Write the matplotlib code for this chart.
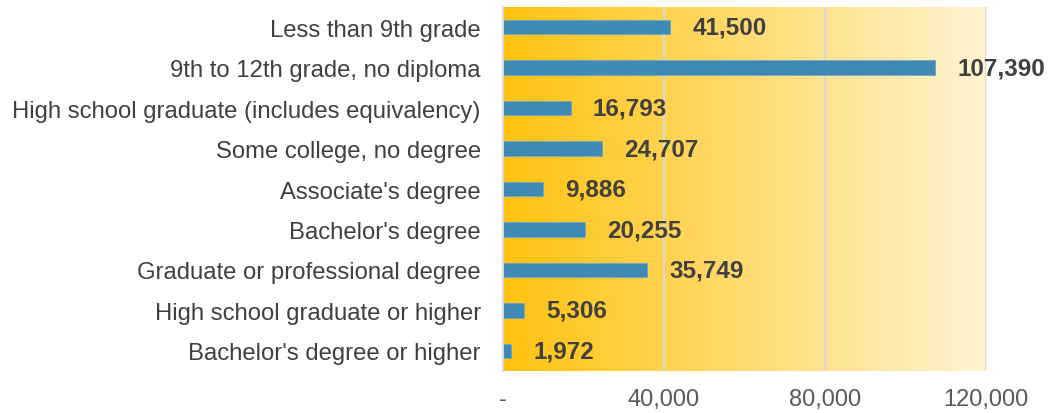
import numpy as np
import matplotlib.pyplot as plt
from matplotlib.colors import LinearSegmentedColormap

categories = [
    "Less than 9th grade",
    "9th to 12th grade, no diploma",
    "High school graduate (includes equivalency)",
    "Some college, no degree",
    "Associate's degree",
    "Bachelor's degree",
    "Graduate or professional degree",
    "High school graduate or higher",
    "Bachelor's degree or higher",
]
values = [41500, 107390, 16793, 24707, 9886, 20255, 35749, 5306, 1972]
xticks = [0, 40000, 80000, 120000]
xtick_labels = ["-", "40,000", "80,000", "120,000"]

plt.rcParams['font.family'] = ['Liberation Sans', 'DejaVu Sans']

fig = plt.figure(figsize=(10.49, 4.14), dpi=100)
ax = fig.add_axes([0.4795, 0.101, 0.4605, 0.880])

y = np.arange(len(categories))
ax.set_xlim(0, 120000)
ax.set_ylim(len(categories) - 0.5, -0.5)

# fond en dégradé
cmap = LinearSegmentedColormap.from_list("bg", ["#FFC20E", "#FFDB70", "#FFF4D2"])
grad = np.linspace(0, 1, 256).reshape(1, -1)
ax.imshow(grad, cmap=cmap, aspect="auto", extent=[0, 120000, len(categories) - 0.5, -0.5], zorder=0)

for xv in xticks[1:]:
    ax.axvline(xv, color="#D9D9D9", lw=1.5, zorder=1)

ax.barh(y, values, height=0.36, color="#3F89B5", edgecolor="#6FA6C8", linewidth=0.6, zorder=2)

for yi, v in zip(y, values):
    ax.text(v + 5500, yi, f"{v:,}", va="center", ha="left", fontsize=17.5,
            fontweight="bold", color="#404040", zorder=3)

ax.set_yticks(y)
ax.set_yticklabels(categories, fontsize=17.2, color="#404040")
ax.set_xticks(xticks)
ax.set_xticklabels(xtick_labels, fontsize=17, color="#595959")
ax.tick_params(axis="y", length=0, pad=16)
ax.tick_params(axis="x", length=0, pad=12)

for s in ["top", "right", "bottom"]:
    ax.spines[s].set_visible(False)
ax.spines["left"].set_color("#D9D9D9")
ax.spines["left"].set_linewidth(1.5)

fig.savefig("out.png", dpi=100)
